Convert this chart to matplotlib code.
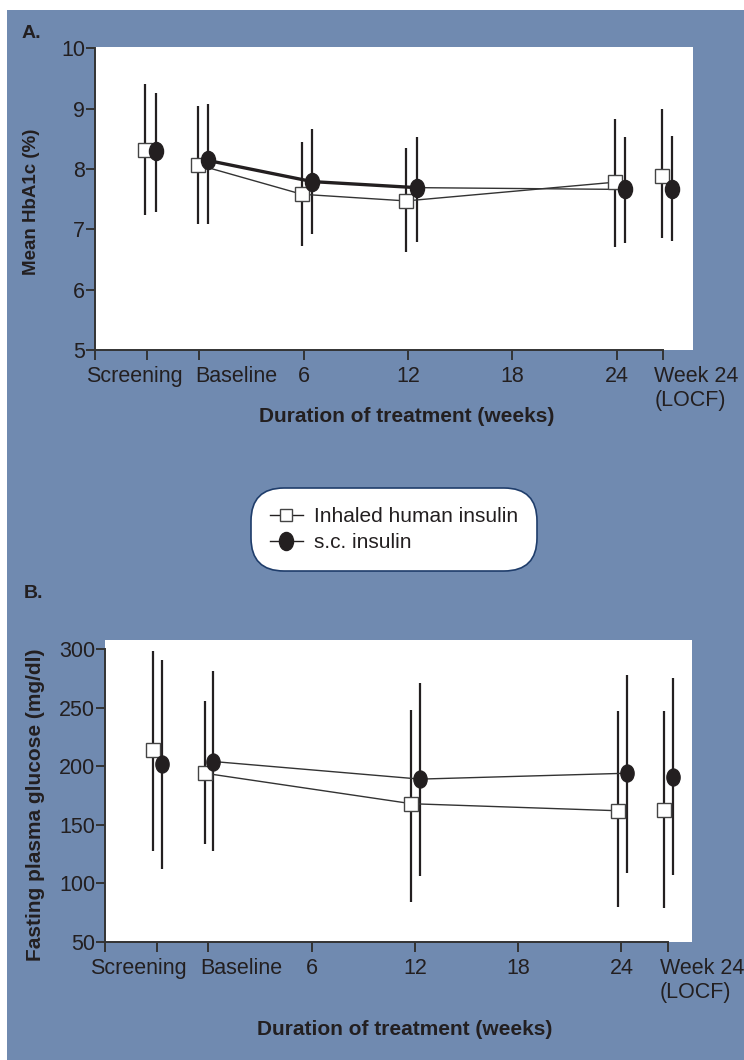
import matplotlib
matplotlib.use('Agg')
import matplotlib.pyplot as plt
from matplotlib.patches import Rectangle
from matplotlib.lines import Line2D
from matplotlib.path import Path
from matplotlib.transforms import Affine2D, ScaledTranslation

plt.rcParams['font.family'] = ['Liberation Sans', 'DejaVu Sans']

# x axis (weeks); Screening and LOCF are placed as extra categories
tick_pos = [-3, 0, 6, 12, 18, 24, 26.7]
tick_labels = ['Screening', 'Baseline', '6', '12', '18', '24', 'Week 24\n(LOCF)']

# panel A: HbA1c (%) at Screening, Baseline, 6, 12, 24, LOCF
x_a = [-3, 0, 6, 12, 24, 26.7]
inh_a = [8.31, 8.07, 7.58, 7.47, 7.78, 7.88]
inh_a_lo = [7.24, 7.08, 6.73, 6.62, 6.71, 6.85]
inh_a_hi = [9.40, 9.05, 8.45, 8.35, 8.83, 9.00]
sc_a = [8.30, 8.14, 7.79, 7.69, 7.66, 7.66]
sc_a_lo = [7.29, 7.09, 6.92, 6.79, 6.77, 6.81]
sc_a_hi = [9.26, 9.07, 8.66, 8.53, 8.53, 8.55]

# panel B: fasting plasma glucose (mg/dl) at Screening, Baseline, 12, 24, LOCF
x_b = [-3, 0, 12, 24, 26.7]
inh_b = [214, 194, 168, 162, 163]
inh_b_lo = [128, 134, 84, 80, 79]
inh_b_hi = [298, 256, 248, 247, 247]
sc_b = [202, 204, 189, 194, 191]
sc_b_lo = [112, 128, 106, 109, 107]
sc_b_hi = [291, 281, 271, 278, 275]

dark = '#231f20'
blue = '#708ab0'
ellipse = Path.unit_circle().transformed(Affine2D().scale(0.78, 1.0))

W, H = 744, 1060
fig = plt.figure(figsize=(W / 100, H / 100), dpi=100, facecolor='white')
fig.patches.append(Rectangle((7 / W, 0), 737 / W, 1050 / H, transform=fig.transFigure,
                             facecolor=blue, edgecolor='none', zorder=-10))


def px_axes(l, t, r, b):
    return fig.add_axes([l / W, 1 - b / H, (r - l) / W, (b - t) / H])


def draw(ax, x, inh, inh_lo, inh_hi, sc, sc_lo, sc_hi, joined, dx_sq, dx_ci, ms_sq, ms_ci, thick):
    xs = [v + dx_sq for v in x]
    xc = [v + dx_ci for v in x]
    ax.vlines(xs, inh_lo, inh_hi, color=dark, lw=1.6, zorder=2)
    ax.vlines(xc, sc_lo, sc_hi, color=dark, lw=1.6, zorder=2)
    ax.plot(xs[joined], inh[joined], color='#333333', lw=1.0, zorder=3)
    ax.plot(xc[joined], sc[joined], color='#333333', lw=1.0, zorder=3)
    if thick:
        ax.plot(xc[1:4], sc[1:4], color=dark, lw=2.4, zorder=3, solid_capstyle='round')
    ax.plot(xs, inh, ls='none', marker='s', ms=ms_sq, mfc='white', mec='#444444', mew=1.0, zorder=4)
    ax.plot(xc, sc, ls='none', marker=ellipse, ms=ms_ci, mfc=dark, mec=dark, zorder=5)


def style(ax, ylim, yticks, xmax, shifts):
    ax.set_facecolor('white')
    ax.set_xlim(-6, xmax)
    ax.set_ylim(*ylim)
    for s in ['top', 'right']:
        ax.spines[s].set_visible(False)
    for s in ['left', 'bottom']:
        ax.spines[s].set_linewidth(1.4)
        ax.spines[s].set_color('#333333')
    ax.spines['bottom'].set_bounds(-6, tick_pos[-1])
    ax.spines['left'].set_bounds(ylim[0], yticks[-1])
    ax.set_xticks([-6] + tick_pos)
    ax.set_xticklabels([''] + tick_labels)
    ax.set_yticks(yticks)
    ax.tick_params(axis='both', direction='out', color='#333333', width=1.4,
                   labelsize=15.5, labelcolor=dark)
    ax.tick_params(axis='x', length=7.5, pad=4)
    ax.tick_params(axis='y', length=6.5, pad=0.5)
    labs = ax.get_xticklabels()
    # Screening, Baseline, LOCF labels sit off-centre in the original
    for idx, (ha, dx) in shifts.items():
        lab = labs[idx]
        lab.set_ha(ha)
        lab.set_transform(lab.get_transform() + ScaledTranslation(dx / 100, 0, fig.dpi_scale_trans))


# panel A
ax1 = px_axes(95, 47, 693, 350)
draw(ax1, x_a, inh_a, inh_a_lo, inh_a_hi, sc_a, sc_a_lo, sc_a_hi,
     slice(1, 5), -0.1, 0.5, 10, 13, True)
style(ax1, (5, 10.02), [5, 6, 7, 8, 9, 10], 28.4,
      {1: ('center', -13), 2: ('left', -4), 7: ('left', -9)})
ax1.set_ylabel('Mean HbA1c (%)', fontsize=13.5, fontweight='bold', color=dark)
ax1.yaxis.set_label_coords(-0.092, 0.49)
ax1.set_xlabel('Duration of treatment (weeks)', fontsize=15, fontweight='bold', color=dark, va='center')
ax1.xaxis.set_label_coords(0.521, -0.221)

# panel B
ax2 = px_axes(105, 640, 692, 942)
draw(ax2, x_b, inh_b, inh_b_lo, inh_b_hi, sc_b, sc_b_lo, sc_b_hi,
     slice(1, 4), -0.2, 0.3, 9.8, 12.2, False)
style(ax2, (50, 307.7), [50, 100, 150, 200, 250, 300], 28.1,
      {1: ('center', -18), 2: ('left', -8), 7: ('left', -8)})
ax2.set_ylabel('Fasting plasma glucose (mg/dl)', fontsize=15, fontweight='bold', color=dark)
ax2.yaxis.set_label_coords(-0.102, 0.454)
ax2.set_xlabel('Duration of treatment (weeks)', fontsize=15, fontweight='bold', color=dark, va='center')
ax2.xaxis.set_label_coords(0.51, -0.291)

fig.text(22 / W, 1 - 34 / H, 'A.', fontsize=14, fontweight='bold', color=dark, va='center')
fig.text(24 / W, 1 - 593 / H, 'B.', fontsize=14, fontweight='bold', color=dark, va='center')

# legend
handles = [
    Line2D([], [], color=dark, lw=1.0, marker='s', ms=8, mfc='white', mec='#444444', mew=1.0),
    Line2D([], [], color=dark, lw=1.0, marker=ellipse, ms=13, mfc=dark, mec=dark),
]
leg = fig.legend(handles, ['Inhaled human insulin', 's.c. insulin'],
                 loc='center', bbox_to_anchor=(394 / W, 1 - 529.5 / H),
                 fontsize=15, handlelength=1.6, handletextpad=0.55,
                 borderpad=0.9, labelspacing=0.35, frameon=True, fancybox=True,
                 labelcolor=dark)
frame = leg.get_frame()
frame.set_boxstyle('round,pad=0,rounding_size=1.6')
frame.set_facecolor('white')
frame.set_edgecolor('#1f3d6b')
frame.set_linewidth(1.2)
frame.set_alpha(1)

fig.savefig('out.png', dpi=100, facecolor='white')
